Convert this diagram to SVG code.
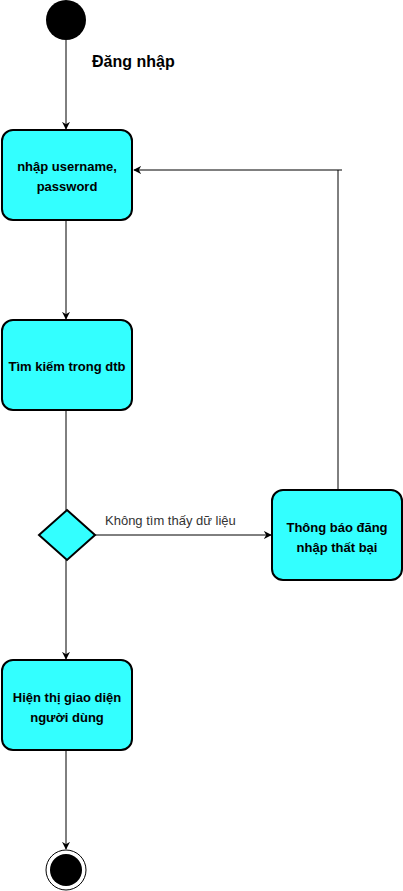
<svg xmlns="http://www.w3.org/2000/svg" width="403" height="891" viewBox="0 0 403 891">
<style>
.node{fill:#33FFFF;stroke:#000;stroke-width:2}
.t{font-family:"Liberation Sans",Arial,sans-serif;font-size:13px;font-weight:bold;text-anchor:middle;fill:#000}
.e{fill:none;stroke:#000;stroke-width:1}
.lbl{font-family:"Liberation Sans",Arial,sans-serif;font-size:13px;fill:#333}
</style>
<defs>
<marker id="ar" viewBox="0 0 10 10" refX="9" refY="5" markerWidth="8" markerHeight="8" markerUnits="userSpaceOnUse" orient="auto">
<path d="M0,0 L10,5 L0,10 L3,5 Z" fill="#000"/>
</marker>
</defs>
<g id="connectors">
<line class="e" x1="66" y1="40" x2="66" y2="129" marker-end="url(#ar)"/>
<line class="e" x1="66" y1="221" x2="66" y2="319" marker-end="url(#ar)"/>
<line class="e" x1="66" y1="411" x2="66" y2="510"/>
<line class="e" x1="95" y1="535" x2="271" y2="535" marker-end="url(#ar)"/>
<text class="lbl" x="105" y="525">Không tìm thấy dữ liệu</text>
<polyline class="e" points="338,490 338,170"/>
<line class="e" x1="342" y1="170" x2="134" y2="170" marker-end="url(#ar)"/>
<line class="e" x1="66" y1="560" x2="66" y2="659" marker-end="url(#ar)"/>
<line class="e" x1="66" y1="751" x2="66" y2="849" marker-end="url(#ar)"/>
</g>
<g id="start">
<circle cx="66" cy="20" r="20" fill="#000"/>
<text x="92" y="67" font-family="Liberation Sans, Arial, sans-serif" font-size="16" font-weight="bold" fill="#000">Đăng nhập</text>
</g>
<g id="n1">
<rect class="node" x="2" y="130" width="130" height="90" rx="11"/>
<text class="t" x="67" y="171">nhập username,</text>
<text class="t" x="67" y="191">password</text>
</g>
<g id="n2">
<rect class="node" x="2" y="320" width="130" height="90" rx="11"/>
<text class="t" x="67" y="371">Tìm kiếm trong dtb</text>
</g>
<g id="decision">
<polygon class="node" points="67,510 95,535 67,560 39,535"/>
</g>
<g id="n3">
<rect class="node" x="272" y="490" width="130" height="90" rx="11"/>
<text class="t" x="337" y="532">Thông báo đăng</text>
<text class="t" x="337" y="552">nhập thất bại</text>
</g>
<g id="n4">
<rect class="node" x="2" y="660" width="130" height="90" rx="11"/>
<text class="t" x="67" y="702">Hiện thị giao diện</text>
<text class="t" x="67" y="722">người dùng</text>
</g>
<g id="end">
<circle cx="66" cy="870" r="20" fill="#fff" stroke="#000" stroke-width="1"/>
<circle cx="66" cy="870" r="16" fill="#000"/>
</g>
</svg>
